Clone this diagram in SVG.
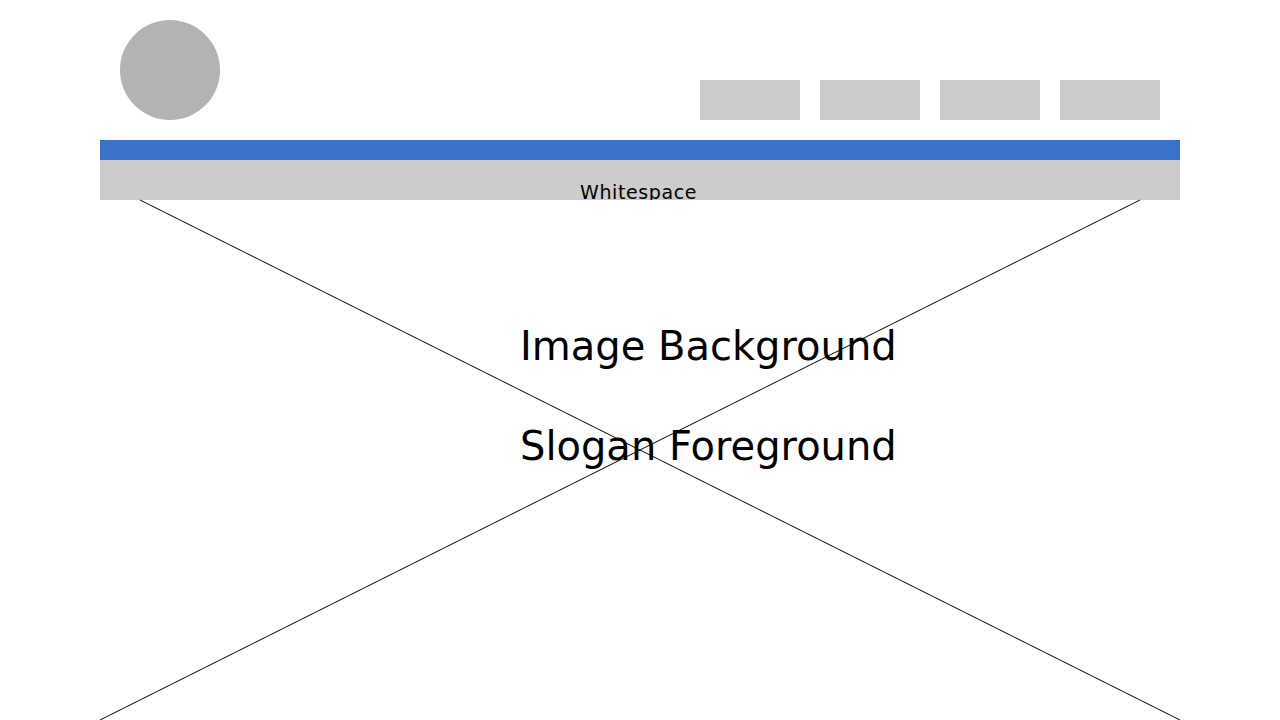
<svg xmlns="http://www.w3.org/2000/svg" width="1280" height="720" viewBox="0 0 1280 720">
  <defs>
    <clipPath id="bandClip">
      <rect x="100" y="160" width="1080" height="40"/>
    </clipPath>
  </defs>
  <style>
    .block { fill: #cccccc; }
    .label { font-family: "DejaVu Sans", sans-serif; fill: #000000; }
    .cross { stroke: #000000; stroke-width: 1; fill: none; }
  </style>
  <rect x="0" y="0" width="1280" height="720" fill="#ffffff"/>

  <!-- logo -->
  <g id="logo">
    <circle cx="170" cy="70" r="50" fill="#b3b3b3"/>
  </g>

  <!-- navigation buttons -->
  <g id="nav">
    <rect class="block" x="700" y="80" width="100" height="40"/>
    <rect class="block" x="820" y="80" width="100" height="40"/>
    <rect class="block" x="940" y="80" width="100" height="40"/>
    <rect class="block" x="1060" y="80" width="100" height="40"/>
  </g>

  <!-- header bar -->
  <g id="bar">
    <rect x="100" y="140" width="1080" height="20" fill="#3a73c9"/>
  </g>

  <!-- whitespace band -->
  <g id="whitespace">
    <rect class="block" x="100" y="160" width="1080" height="40"/>
    <g clip-path="url(#bandClip)">
      <text class="label" x="580" y="198.5" font-size="19" letter-spacing="0.6">Whitespace</text>
    </g>
  </g>

  <!-- image placeholder cross -->
  <g id="connectors">
    <line class="cross" x1="140" y1="200" x2="1180" y2="720"/>
    <line class="cross" x1="1140" y1="200" x2="100" y2="720"/>
  </g>

  <!-- hero texts -->
  <g id="hero">
    <text class="label" x="520" y="360" font-size="40">Image Background</text>
    <text class="label" x="520" y="460" font-size="40">Slogan Foreground</text>
  </g>
</svg>
